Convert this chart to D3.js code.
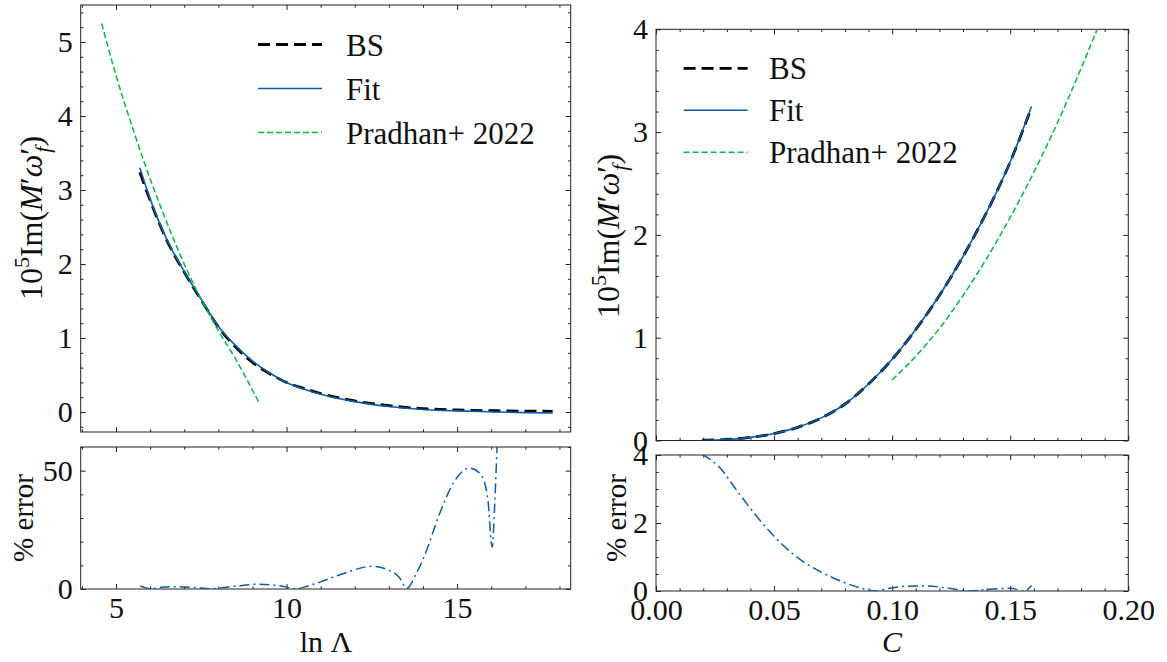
<!DOCTYPE html>
<html>
<head>
<meta charset="utf-8">
<script src="https://cdn.jsdelivr.net/npm/d3@7"></script>
<style>
body { margin: 0; background: #fff; }
svg text { font-family: "Liberation Serif", "DejaVu Serif", serif; fill: #111; }
</style>
</head>
<body>
<svg id="chart" width="1167" height="662"></svg>
<script>
// left panels: against ln(Lambda)
var lnLambda = [5.7, 6.0, 6.5, 7.0, 7.5, 8.0, 8.5, 9.0, 9.5, 10.0, 10.5, 11.0, 12.0, 13.0, 14.0, 15.0, 16.0, 17.0, 17.8];
var bsLeft  = [3.24, 2.86, 2.31, 1.89, 1.51, 1.15, 0.88, 0.67, 0.52, 0.40, 0.32, 0.25, 0.15, 0.085, 0.045, 0.028, 0.018, 0.012, 0.010];
var fitLeft = [3.30, 2.88, 2.32, 1.90, 1.52, 1.16, 0.90, 0.69, 0.53, 0.40, 0.31, 0.24, 0.14, 0.075, 0.035, 0.015, 0.002, -0.008, -0.013];
var pradhanLnLambda = [4.58, 5.0, 5.5, 6.0, 6.5, 7.0, 7.5, 8.0, 8.5, 9.2];
var pradhanLeft     = [5.25, 4.55, 3.82, 3.15, 2.55, 2.0, 1.52, 1.1, 0.72, 0.12];
var errLnLambda = [5.71, 6.02, 6.4, 6.8, 7.3, 7.75, 8.5, 9.14, 9.8, 10.3, 10.6, 11.0, 11.4, 11.8, 12.5, 13.0, 13.3, 13.53, 13.8, 14.03, 14.48, 14.92, 15.37, 15.7, 15.9, 16.03, 16.1, 16.17, 16.3];
var errLeft     = [1.25, 0.1, 0.8, 1.0, 0.6, 0.1, 1.2, 2.0, 1.4, 0.1, 1.2, 3.0, 5.2, 7.2, 9.6, 7.9, 5.0, 0.3, 6.5, 13.5, 31.6, 45.5, 51.1, 48.3, 38.0, 17.7, 35.0, 59.5, 100];

// right panels: against compactness C
var compactness = [0.0195, 0.03, 0.04, 0.05, 0.06, 0.07, 0.08, 0.09, 0.10, 0.11, 0.12, 0.13, 0.14, 0.15, 0.159];
var bsRight  = [0.003, 0.010, 0.030, 0.068, 0.128, 0.220, 0.355, 0.55, 0.79, 1.08, 1.41, 1.79, 2.22, 2.71, 3.24];
var fitRight = [0.003, 0.010, 0.030, 0.068, 0.128, 0.220, 0.355, 0.55, 0.79, 1.08, 1.41, 1.79, 2.22, 2.71, 3.25];
var pradhanC     = [0.100, 0.110, 0.120, 0.130, 0.140, 0.150, 0.160, 0.170, 0.180, 0.1877];
var pradhanRight = [0.59, 0.82, 1.09, 1.41, 1.77, 2.17, 2.61, 3.09, 3.62, 4.05];
var errC     = [0.0195, 0.0266, 0.034, 0.042, 0.05, 0.059, 0.069, 0.078, 0.087, 0.093, 0.097, 0.106, 0.114, 0.123, 0.133, 0.141, 0.15, 0.156, 0.159];
var errRight = [4.02, 3.66, 2.98, 2.25, 1.61, 1.03, 0.59, 0.30, 0.08, 0.0, 0.06, 0.14, 0.15, 0.09, 0.0, 0.05, 0.08, 0.0, 0.16];

// tick labels
var leftXTicks = [5, 10, 15];
var leftYTicks = [0, 1, 2, 3, 4, 5];
var leftErrTicks = [0, 50];
var rightXTicks = [0, 0.05, 0.10, 0.15, 0.20];
var rightYTicks = [0, 1, 2, 3, 4];
var rightErrTicks = [0, 2, 4];
var legendNames = ["BS", "Fit", "Pradhan+ 2022"];

var BLUE = "#0C5DA5", GREEN = "#00B945";
var svg = d3.select("#chart");
svg.append("rect").attr("width", 1167).attr("height", 662).attr("fill", "#fff");

var styles = {
    bs:   { stroke: "#000", width: 2.8, dash: "12,6" },
    fit:  { stroke: BLUE, width: 1.6, dash: null },
    prad: { stroke: GREEN, width: 1.5, dash: "6,3" },
    err:  { stroke: BLUE, width: 1.5, dash: "10,4,2,4" }
};

function minorOf(major, step, lo, hi) {
    return d3.range(lo, hi + step / 2, step).filter(function(v) {
        return !major.some(function(m) { return Math.abs(m - v) < step / 10; });
    });
}

function axisSet(x, y, xMajor, xMinor, yMajor, yMinor, xFmt, yFmt) {
    var x0 = x.range()[0], x1 = x.range()[1], yb = y.range()[0], yt = y.range()[1];
    var sides = [
        [d3.axisBottom, x, "translate(0," + yb + ")", xMajor, xMinor, xFmt],
        [d3.axisTop, x, "translate(0," + yt + ")", xMajor, xMinor, null],
        [d3.axisLeft, y, "translate(" + x0 + ",0)", yMajor, yMinor, yFmt],
        [d3.axisRight, y, "translate(" + x1 + ",0)", yMajor, yMinor, null]
    ];
    sides.forEach(function(s) {
        svg.append("g").attr("transform", s[2]).style("color", "#222")
            .call(s[0](s[1]).tickValues(s[4]).tickSize(-2.7).tickFormat(""))
            .call(function(g) { g.select(".domain").remove(); });
        var g = svg.append("g").attr("transform", s[2]).style("color", "#222")
            .call(s[0](s[1]).tickValues(s[3]).tickSize(-5).tickPadding(8).tickFormat(s[5] || ""))
            .call(function(g) { g.select(".domain").remove(); });
        g.attr("font-family", null).attr("font-size", null);
        g.selectAll("text").attr("font-size", 30).style("fill", "#111");
    });
    svg.append("rect").attr("x", x0).attr("y", yt).attr("width", x1 - x0).attr("height", yb - yt)
        .attr("fill", "none").attr("stroke", "#222").attr("stroke-width", 1);
}

var clipCount = 0;
function curve(x, y, xs, ys, st) {
    var id = "clip" + (clipCount++);
    svg.append("clipPath").attr("id", id).append("rect")
        .attr("x", x.range()[0]).attr("y", y.range()[1])
        .attr("width", x.range()[1] - x.range()[0]).attr("height", y.range()[0] - y.range()[1]);
    var line = d3.line().x(function(d) { return x(d[0]); }).y(function(d) { return y(d[1]); })
        .curve(d3.curveMonotoneX);
    svg.append("path").datum(d3.zip(xs, ys)).attr("clip-path", "url(#" + id + ")")
        .attr("d", line).attr("fill", "none").attr("stroke", st.stroke)
        .attr("stroke-width", st.width).attr("stroke-dasharray", st.dash);
}

function legend(lx, ly, tx, gap) {
    [styles.bs, styles.fit, styles.prad].forEach(function(st, i) {
        svg.append("line").attr("x1", lx).attr("x2", lx + 64)
            .attr("y1", ly + i * gap).attr("y2", ly + i * gap)
            .attr("stroke", st.stroke).attr("stroke-width", st.width).attr("stroke-dasharray", st.dash);
        svg.append("text").attr("x", tx).attr("y", ly + i * gap + 11)
            .attr("font-size", 31).text(legendNames[i]);
    });
}

function imLabel(cx, cy) {
    var t = svg.append("text").attr("transform", "translate(" + cx + "," + cy + ") rotate(-90)")
        .attr("text-anchor", "middle").attr("font-size", 32);
    t.append("tspan").text("10");
    t.append("tspan").attr("font-size", 22).attr("dy", -13).text("5");
    t.append("tspan").attr("dy", 13).text("Im(");
    t.append("tspan").attr("font-style", "italic").text("M");
    t.append("tspan").text("′");
    t.append("tspan").attr("font-style", "italic").text("ω");
    t.append("tspan").text("′");
    t.append("tspan").attr("font-style", "italic").attr("font-size", 22).attr("dx", -5).attr("dy", 8).text("f");
    t.append("tspan").attr("dy", -8).text(")");
}

function errLabel(cx, cy) {
    svg.append("text").attr("transform", "translate(" + cx + "," + cy + ") rotate(-90)")
        .attr("text-anchor", "middle").attr("font-size", 29).text("% error");
}

// ---- left column ----
var xL = d3.scaleLinear().domain([3.965, 18.33]).range([80.7, 570.7]);
var yLt = d3.scaleLinear().domain([-0.27, 5.5]).range([432, 5]);
var yLb = d3.scaleLinear().domain([0, 60]).range([589, 447]);

axisSet(xL, yLt, leftXTicks, minorOf(leftXTicks, 1, 4, 18), leftYTicks, minorOf(leftYTicks, 0.2, -0.2, 5.4), null, d3.format("d"));
axisSet(xL, yLb, leftXTicks, minorOf(leftXTicks, 1, 4, 18), leftErrTicks, minorOf(leftErrTicks, 10, 0, 60), d3.format("d"), d3.format("d"));

curve(xL, yLt, lnLambda, bsLeft, styles.bs);
curve(xL, yLt, lnLambda, fitLeft, styles.fit);
curve(xL, yLt, pradhanLnLambda, pradhanLeft, styles.prad);
curve(xL, yLb, errLnLambda, errLeft, styles.err);

legend(258, 44.5, 346, 44);
imLabel(42, 218);
errLabel(33, 518);
svg.append("text").attr("x", 326).attr("y", 652).attr("text-anchor", "middle")
    .attr("font-size", 30).text("ln Λ");

// ---- right column ----
var xR = d3.scaleLinear().domain([0, 0.2]).range([656, 1128.3]);
var yRt = d3.scaleLinear().domain([0, 4]).range([440.5, 29.3]);
var yRb = d3.scaleLinear().domain([0, 4]).range([591, 455]);

axisSet(xR, yRt, rightXTicks, minorOf(rightXTicks, 0.01, 0, 0.2), rightYTicks, minorOf(rightYTicks, 0.2, 0, 4), null, d3.format("d"));
axisSet(xR, yRb, rightXTicks, minorOf(rightXTicks, 0.01, 0, 0.2), rightErrTicks, minorOf(rightErrTicks, 0.5, 0, 4), d3.format(".2f"), d3.format("d"));

curve(xR, yRt, compactness, bsRight, styles.bs);
curve(xR, yRt, compactness, fitRight, styles.fit);
curve(xR, yRt, pradhanC, pradhanRight, styles.prad);
curve(xR, yRb, errC, errRight, styles.err);

legend(683.6, 68.3, 769, 42);
imLabel(619, 236);
errLabel(626, 518);
svg.append("text").attr("x", 892).attr("y", 652).attr("text-anchor", "middle")
    .attr("font-size", 30).attr("font-style", "italic").text("C");
</script>
</body>
</html>
